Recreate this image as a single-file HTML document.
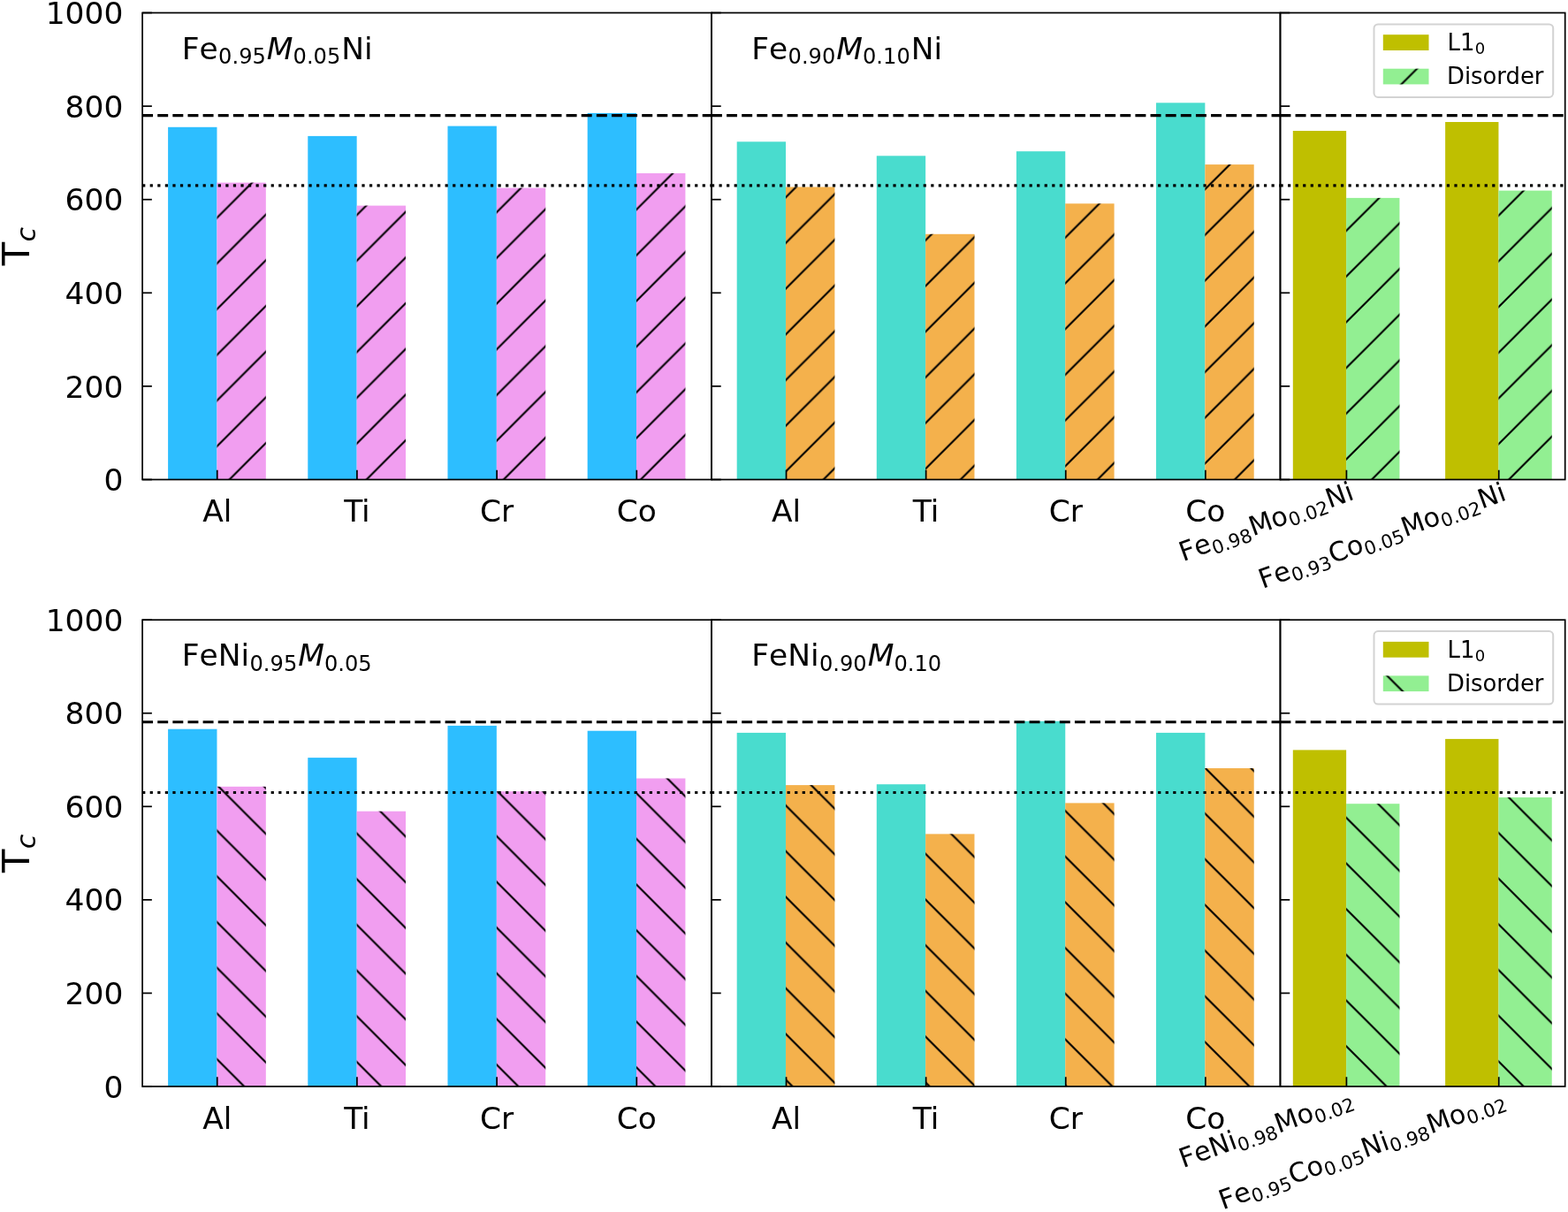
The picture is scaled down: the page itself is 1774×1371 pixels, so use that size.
<!DOCTYPE html><html><head><meta charset="utf-8"><title>Tc bar chart</title><style>html,body{margin:0;padding:0;background:#fff;overflow:hidden;width:1774px;height:1371px}svg{display:block}text{font-family:"DejaVu Sans","Liberation Sans",sans-serif;fill:#000}</style></head><body>
<svg width="1774" height="1371" viewBox="0 0 1774 1371">
<defs><pattern id="hf" patternUnits="userSpaceOnUse" x="0" y="0" width="51.6960" height="51.6960"><path d="M-51.696 26.500L26.500 -51.696M-51.696 78.196L78.196 -51.696M-51.696 129.892L129.892 -51.696M-51.696 181.588L181.588 -51.696" stroke="#000" stroke-width="2.15" fill="none"/></pattern><pattern id="hb" patternUnits="userSpaceOnUse" x="0" y="0" width="51.6960" height="51.6960"><path d="M-51.696 22.196L103.392 177.284M-51.696 -29.500L103.392 125.588M-51.696 -81.196L103.392 73.892M-51.696 -132.892L103.392 22.196M-51.696 -184.588L103.392 -29.500" stroke="#000" stroke-width="2.15" fill="none"/></pattern></defs>
<rect width="1774" height="1371" fill="#fff"/>
<rect x="190.10" y="143.80" width="55.37" height="398.70" fill="#2DBEFF"/>
<rect x="245.46" y="206.60" width="55.37" height="335.90" fill="#F19EF0"/>
<rect x="245.46" y="206.60" width="55.37" height="335.90" fill="url(#hf)"/>
<rect x="348.29" y="153.90" width="55.37" height="388.60" fill="#2DBEFF"/>
<rect x="403.65" y="232.60" width="55.37" height="309.90" fill="#F19EF0"/>
<rect x="403.65" y="232.60" width="55.37" height="309.90" fill="url(#hf)"/>
<rect x="506.48" y="142.60" width="55.37" height="399.90" fill="#2DBEFF"/>
<rect x="561.85" y="212.60" width="55.37" height="329.90" fill="#F19EF0"/>
<rect x="561.85" y="212.60" width="55.37" height="329.90" fill="url(#hf)"/>
<rect x="664.67" y="127.90" width="55.37" height="414.60" fill="#2DBEFF"/>
<rect x="720.04" y="196.00" width="55.37" height="346.50" fill="#F19EF0"/>
<rect x="720.04" y="196.00" width="55.37" height="346.50" fill="url(#hf)"/>
<rect x="833.69" y="160.30" width="55.34" height="382.20" fill="#49DCCE"/>
<rect x="889.03" y="211.50" width="55.34" height="331.00" fill="#F4B14C"/>
<rect x="889.03" y="211.50" width="55.34" height="331.00" fill="url(#hf)"/>
<rect x="991.80" y="176.30" width="55.34" height="366.20" fill="#49DCCE"/>
<rect x="1047.14" y="264.80" width="55.34" height="277.70" fill="#F4B14C"/>
<rect x="1047.14" y="264.80" width="55.34" height="277.70" fill="url(#hf)"/>
<rect x="1149.91" y="171.20" width="55.34" height="371.30" fill="#49DCCE"/>
<rect x="1205.25" y="230.30" width="55.34" height="312.20" fill="#F4B14C"/>
<rect x="1205.25" y="230.30" width="55.34" height="312.20" fill="url(#hf)"/>
<rect x="1308.02" y="116.30" width="55.34" height="426.20" fill="#49DCCE"/>
<rect x="1363.36" y="186.10" width="55.34" height="356.40" fill="#F4B14C"/>
<rect x="1363.36" y="186.10" width="55.34" height="356.40" fill="url(#hf)"/>
<rect x="1462.80" y="148.00" width="60.31" height="394.50" fill="#BFBF00"/>
<rect x="1523.11" y="223.90" width="60.31" height="318.60" fill="#92EF92"/>
<rect x="1523.11" y="223.90" width="60.31" height="318.60" fill="url(#hf)"/>
<rect x="1635.12" y="138.00" width="60.31" height="404.50" fill="#BFBF00"/>
<rect x="1695.44" y="215.60" width="60.31" height="326.90" fill="#92EF92"/>
<rect x="1695.44" y="215.60" width="60.31" height="326.90" fill="url(#hf)"/>
<path d="M161.10 130.67L804.94 130.67" stroke="#000" stroke-width="3.23" fill="none" stroke-dasharray="11.955 5.170"/>
<path d="M161.10 209.86L804.94 209.86" stroke="#000" stroke-width="3.23" fill="none" stroke-dasharray="3.231 5.331"/>
<path d="M804.94 130.67L1448.45 130.67" stroke="#000" stroke-width="3.23" fill="none" stroke-dasharray="11.955 5.170"/>
<path d="M804.94 209.86L1448.45 209.86" stroke="#000" stroke-width="3.23" fill="none" stroke-dasharray="3.231 5.331"/>
<path d="M1448.45 130.67L1770.70 130.67" stroke="#000" stroke-width="3.23" fill="none" stroke-dasharray="11.955 5.170"/>
<path d="M1448.45 209.86L1770.70 209.86" stroke="#000" stroke-width="3.23" fill="none" stroke-dasharray="3.231 5.331"/>
<path d="M161.10 542.50L171.87 542.50" stroke="#000" stroke-width="1.72" fill="none"/>
<path d="M161.10 436.90L171.87 436.90" stroke="#000" stroke-width="1.72" fill="none"/>
<path d="M161.10 331.30L171.87 331.30" stroke="#000" stroke-width="1.72" fill="none"/>
<path d="M161.10 225.70L171.87 225.70" stroke="#000" stroke-width="1.72" fill="none"/>
<path d="M161.10 120.10L171.87 120.10" stroke="#000" stroke-width="1.72" fill="none"/>
<path d="M161.10 14.50L171.87 14.50" stroke="#000" stroke-width="1.72" fill="none"/>
<path d="M804.94 542.50L815.71 542.50" stroke="#000" stroke-width="1.72" fill="none"/>
<path d="M804.94 436.90L815.71 436.90" stroke="#000" stroke-width="1.72" fill="none"/>
<path d="M804.94 331.30L815.71 331.30" stroke="#000" stroke-width="1.72" fill="none"/>
<path d="M804.94 225.70L815.71 225.70" stroke="#000" stroke-width="1.72" fill="none"/>
<path d="M804.94 120.10L815.71 120.10" stroke="#000" stroke-width="1.72" fill="none"/>
<path d="M804.94 14.50L815.71 14.50" stroke="#000" stroke-width="1.72" fill="none"/>
<path d="M1448.45 542.50L1459.22 542.50" stroke="#000" stroke-width="1.72" fill="none"/>
<path d="M1448.45 436.90L1459.22 436.90" stroke="#000" stroke-width="1.72" fill="none"/>
<path d="M1448.45 331.30L1459.22 331.30" stroke="#000" stroke-width="1.72" fill="none"/>
<path d="M1448.45 225.70L1459.22 225.70" stroke="#000" stroke-width="1.72" fill="none"/>
<path d="M1448.45 120.10L1459.22 120.10" stroke="#000" stroke-width="1.72" fill="none"/>
<path d="M1448.45 14.50L1459.22 14.50" stroke="#000" stroke-width="1.72" fill="none"/>
<path d="M245.73 542.50L245.73 531.73" stroke="#000" stroke-width="1.72" fill="none"/>
<path d="M403.92 542.50L403.92 531.73" stroke="#000" stroke-width="1.72" fill="none"/>
<path d="M562.12 542.50L562.12 531.73" stroke="#000" stroke-width="1.72" fill="none"/>
<path d="M720.31 542.50L720.31 531.73" stroke="#000" stroke-width="1.72" fill="none"/>
<path d="M889.53 542.50L889.53 531.73" stroke="#000" stroke-width="1.72" fill="none"/>
<path d="M1047.64 542.50L1047.64 531.73" stroke="#000" stroke-width="1.72" fill="none"/>
<path d="M1205.75 542.50L1205.75 531.73" stroke="#000" stroke-width="1.72" fill="none"/>
<path d="M1363.86 542.50L1363.86 531.73" stroke="#000" stroke-width="1.72" fill="none"/>
<path d="M1523.41 542.50L1523.41 531.73" stroke="#000" stroke-width="1.72" fill="none"/>
<path d="M1695.74 542.50L1695.74 531.73" stroke="#000" stroke-width="1.72" fill="none"/>
<rect x="161.10" y="14.50" width="643.84" height="528.00" fill="none" stroke="#000" stroke-width="1.72"/>
<rect x="804.94" y="14.50" width="643.51" height="528.00" fill="none" stroke="#000" stroke-width="1.72"/>
<rect x="1448.45" y="14.50" width="322.25" height="528.00" fill="none" stroke="#000" stroke-width="1.72"/>
<text x="139.36" y="555.10" font-size="34.46" text-anchor="end">0</text>
<text x="139.36" y="449.50" font-size="34.46" text-anchor="end">200</text>
<text x="139.36" y="343.90" font-size="34.46" text-anchor="end">400</text>
<text x="139.36" y="238.30" font-size="34.46" text-anchor="end">600</text>
<text x="139.36" y="132.70" font-size="34.46" text-anchor="end">800</text>
<text x="139.36" y="27.10" font-size="34.46" text-anchor="end">1000</text>
<text x="245.73" y="590.23" font-size="34.46" text-anchor="middle">Al</text>
<text x="403.92" y="590.23" font-size="34.46" text-anchor="middle">Ti</text>
<text x="562.12" y="590.23" font-size="34.46" text-anchor="middle">Cr</text>
<text x="720.31" y="590.23" font-size="34.46" text-anchor="middle">Co</text>
<text x="889.53" y="590.23" font-size="34.46" text-anchor="middle">Al</text>
<text x="1047.64" y="590.23" font-size="34.46" text-anchor="middle">Ti</text>
<text x="1205.75" y="590.23" font-size="34.46" text-anchor="middle">Cr</text>
<text x="1363.86" y="590.23" font-size="34.46" text-anchor="middle">Co</text>
<text transform="rotate(-20 1534.01 564.10)"><tspan x="1326.01 1343.34" y="564.10" font-size="30.16">Fe</tspan><tspan x="1362.16 1375.58 1382.28 1395.70" y="569.02" font-size="21.11">0.98</tspan><tspan x="1409.93 1435.93" y="564.10" font-size="30.16">Mo</tspan><tspan x="1454.64 1468.06 1474.76 1488.18" y="569.02" font-size="21.11">0.02</tspan><tspan x="1502.42 1524.95" y="564.10" font-size="30.16">Ni</tspan></text>
<text transform="rotate(-20 1705.79 565.20)"><tspan x="1410.79 1428.12" y="565.20" font-size="30.16">Fe</tspan><tspan x="1446.94 1460.35 1467.06 1480.47" y="570.12" font-size="21.11">0.93</tspan><tspan x="1494.71 1515.74" y="565.20" font-size="30.16">Co</tspan><tspan x="1534.46 1547.88 1554.58 1568.00" y="570.12" font-size="21.11">0.05</tspan><tspan x="1582.24 1608.23" y="565.20" font-size="30.16">Mo</tspan><tspan x="1626.95 1640.36 1647.06 1660.48" y="570.12" font-size="21.11">0.02</tspan><tspan x="1674.72 1697.25" y="565.20" font-size="30.16">Ni</tspan></text>
<text transform="rotate(-90 33.00 300.30)"><tspan x="33.00" y="300.30" font-size="43.08">T</tspan><tspan x="59.75" y="307.36" font-size="30.16" font-style="oblique">c</tspan></text>
<text><tspan x="205.70 225.54" y="66.65" font-size="34.46">Fe</tspan><tspan x="247.10 262.46 270.14 285.50" y="72.23" font-size="24.12">0.95</tspan><tspan x="301.80" y="66.65" font-size="34.46" font-style="oblique">M</tspan><tspan x="331.56 346.93 354.60 369.97" y="72.23" font-size="24.12">0.05</tspan><tspan x="386.26 412.07" y="66.65" font-size="34.46">Ni</tspan></text>
<text><tspan x="850.14 869.98" y="66.65" font-size="34.46">Fe</tspan><tspan x="891.54 906.90 914.58 929.94" y="72.23" font-size="24.12">0.90</tspan><tspan x="946.24" y="66.65" font-size="34.46" font-style="oblique">M</tspan><tspan x="976.00 991.37 999.04 1014.41" y="72.23" font-size="24.12">0.10</tspan><tspan x="1030.70 1056.51" y="66.65" font-size="34.46">Ni</tspan></text>
<rect x="1554.50" y="27.40" width="202.70" height="82.50" rx="4.6" ry="4.6" fill="#fff" fill-opacity="0.8" stroke="#D3D3D3" stroke-width="2.00"/>
<rect x="1564.80" y="39.20" width="51.70" height="17.80" fill="#BFBF00"/>
<rect x="1564.80" y="77.70" width="51.70" height="17.70" fill="#92EF92"/>
<rect x="1564.80" y="77.70" width="51.70" height="17.70" fill="url(#hf)"/>
<text><tspan x="1637.50 1651.92" y="57.10" font-size="25.85">L1</tspan><tspan x="1668.63" y="61.37" font-size="18.09">0</tspan></text>
<text x="1637.00" y="95.30" font-size="25.85">Disorder</text>
<rect x="190.10" y="824.70" width="55.37" height="404.30" fill="#2DBEFF"/>
<rect x="245.46" y="889.80" width="55.37" height="339.20" fill="#F19EF0"/>
<rect x="245.46" y="889.80" width="55.37" height="339.20" fill="url(#hb)"/>
<rect x="348.29" y="857.10" width="55.37" height="371.90" fill="#2DBEFF"/>
<rect x="403.65" y="917.70" width="55.37" height="311.30" fill="#F19EF0"/>
<rect x="403.65" y="917.70" width="55.37" height="311.30" fill="url(#hb)"/>
<rect x="506.48" y="820.90" width="55.37" height="408.10" fill="#2DBEFF"/>
<rect x="561.85" y="895.20" width="55.37" height="333.80" fill="#F19EF0"/>
<rect x="561.85" y="895.20" width="55.37" height="333.80" fill="url(#hb)"/>
<rect x="664.67" y="826.70" width="55.37" height="402.30" fill="#2DBEFF"/>
<rect x="720.04" y="880.50" width="55.37" height="348.50" fill="#F19EF0"/>
<rect x="720.04" y="880.50" width="55.37" height="348.50" fill="url(#hb)"/>
<rect x="833.69" y="828.90" width="55.34" height="400.10" fill="#49DCCE"/>
<rect x="889.03" y="888.10" width="55.34" height="340.90" fill="#F4B14C"/>
<rect x="889.03" y="888.10" width="55.34" height="340.90" fill="url(#hb)"/>
<rect x="991.80" y="887.20" width="55.34" height="341.80" fill="#49DCCE"/>
<rect x="1047.14" y="943.40" width="55.34" height="285.60" fill="#F4B14C"/>
<rect x="1047.14" y="943.40" width="55.34" height="285.60" fill="url(#hb)"/>
<rect x="1149.91" y="815.80" width="55.34" height="413.20" fill="#49DCCE"/>
<rect x="1205.25" y="908.40" width="55.34" height="320.60" fill="#F4B14C"/>
<rect x="1205.25" y="908.40" width="55.34" height="320.60" fill="url(#hb)"/>
<rect x="1308.02" y="828.90" width="55.34" height="400.10" fill="#49DCCE"/>
<rect x="1363.36" y="869.00" width="55.34" height="360.00" fill="#F4B14C"/>
<rect x="1363.36" y="869.00" width="55.34" height="360.00" fill="url(#hb)"/>
<rect x="1462.80" y="848.40" width="60.31" height="380.60" fill="#BFBF00"/>
<rect x="1523.11" y="909.20" width="60.31" height="319.80" fill="#92EF92"/>
<rect x="1523.11" y="909.20" width="60.31" height="319.80" fill="url(#hb)"/>
<rect x="1635.12" y="835.90" width="60.31" height="393.10" fill="#BFBF00"/>
<rect x="1695.44" y="902.00" width="60.31" height="327.00" fill="#92EF92"/>
<rect x="1695.44" y="902.00" width="60.31" height="327.00" fill="url(#hb)"/>
<path d="M161.10 816.75L804.94 816.75" stroke="#000" stroke-width="3.23" fill="none" stroke-dasharray="11.955 5.170"/>
<path d="M161.10 896.49L804.94 896.49" stroke="#000" stroke-width="3.23" fill="none" stroke-dasharray="3.231 5.331"/>
<path d="M804.94 816.75L1448.45 816.75" stroke="#000" stroke-width="3.23" fill="none" stroke-dasharray="11.955 5.170"/>
<path d="M804.94 896.49L1448.45 896.49" stroke="#000" stroke-width="3.23" fill="none" stroke-dasharray="3.231 5.331"/>
<path d="M1448.45 816.75L1770.70 816.75" stroke="#000" stroke-width="3.23" fill="none" stroke-dasharray="11.955 5.170"/>
<path d="M1448.45 896.49L1770.70 896.49" stroke="#000" stroke-width="3.23" fill="none" stroke-dasharray="3.231 5.331"/>
<path d="M161.10 1229.00L171.87 1229.00" stroke="#000" stroke-width="1.72" fill="none"/>
<path d="M161.10 1123.44L171.87 1123.44" stroke="#000" stroke-width="1.72" fill="none"/>
<path d="M161.10 1017.88L171.87 1017.88" stroke="#000" stroke-width="1.72" fill="none"/>
<path d="M161.10 912.32L171.87 912.32" stroke="#000" stroke-width="1.72" fill="none"/>
<path d="M161.10 806.76L171.87 806.76" stroke="#000" stroke-width="1.72" fill="none"/>
<path d="M161.10 701.20L171.87 701.20" stroke="#000" stroke-width="1.72" fill="none"/>
<path d="M804.94 1229.00L815.71 1229.00" stroke="#000" stroke-width="1.72" fill="none"/>
<path d="M804.94 1123.44L815.71 1123.44" stroke="#000" stroke-width="1.72" fill="none"/>
<path d="M804.94 1017.88L815.71 1017.88" stroke="#000" stroke-width="1.72" fill="none"/>
<path d="M804.94 912.32L815.71 912.32" stroke="#000" stroke-width="1.72" fill="none"/>
<path d="M804.94 806.76L815.71 806.76" stroke="#000" stroke-width="1.72" fill="none"/>
<path d="M804.94 701.20L815.71 701.20" stroke="#000" stroke-width="1.72" fill="none"/>
<path d="M1448.45 1229.00L1459.22 1229.00" stroke="#000" stroke-width="1.72" fill="none"/>
<path d="M1448.45 1123.44L1459.22 1123.44" stroke="#000" stroke-width="1.72" fill="none"/>
<path d="M1448.45 1017.88L1459.22 1017.88" stroke="#000" stroke-width="1.72" fill="none"/>
<path d="M1448.45 912.32L1459.22 912.32" stroke="#000" stroke-width="1.72" fill="none"/>
<path d="M1448.45 806.76L1459.22 806.76" stroke="#000" stroke-width="1.72" fill="none"/>
<path d="M1448.45 701.20L1459.22 701.20" stroke="#000" stroke-width="1.72" fill="none"/>
<path d="M245.73 1229.00L245.73 1218.23" stroke="#000" stroke-width="1.72" fill="none"/>
<path d="M403.92 1229.00L403.92 1218.23" stroke="#000" stroke-width="1.72" fill="none"/>
<path d="M562.12 1229.00L562.12 1218.23" stroke="#000" stroke-width="1.72" fill="none"/>
<path d="M720.31 1229.00L720.31 1218.23" stroke="#000" stroke-width="1.72" fill="none"/>
<path d="M889.53 1229.00L889.53 1218.23" stroke="#000" stroke-width="1.72" fill="none"/>
<path d="M1047.64 1229.00L1047.64 1218.23" stroke="#000" stroke-width="1.72" fill="none"/>
<path d="M1205.75 1229.00L1205.75 1218.23" stroke="#000" stroke-width="1.72" fill="none"/>
<path d="M1363.86 1229.00L1363.86 1218.23" stroke="#000" stroke-width="1.72" fill="none"/>
<path d="M1523.41 1229.00L1523.41 1218.23" stroke="#000" stroke-width="1.72" fill="none"/>
<path d="M1695.74 1229.00L1695.74 1218.23" stroke="#000" stroke-width="1.72" fill="none"/>
<rect x="161.10" y="701.20" width="643.84" height="527.80" fill="none" stroke="#000" stroke-width="1.72"/>
<rect x="804.94" y="701.20" width="643.51" height="527.80" fill="none" stroke="#000" stroke-width="1.72"/>
<rect x="1448.45" y="701.20" width="322.25" height="527.80" fill="none" stroke="#000" stroke-width="1.72"/>
<text x="139.36" y="1241.60" font-size="34.46" text-anchor="end">0</text>
<text x="139.36" y="1136.04" font-size="34.46" text-anchor="end">200</text>
<text x="139.36" y="1030.48" font-size="34.46" text-anchor="end">400</text>
<text x="139.36" y="924.92" font-size="34.46" text-anchor="end">600</text>
<text x="139.36" y="819.36" font-size="34.46" text-anchor="end">800</text>
<text x="139.36" y="713.80" font-size="34.46" text-anchor="end">1000</text>
<text x="245.73" y="1276.73" font-size="34.46" text-anchor="middle">Al</text>
<text x="403.92" y="1276.73" font-size="34.46" text-anchor="middle">Ti</text>
<text x="562.12" y="1276.73" font-size="34.46" text-anchor="middle">Cr</text>
<text x="720.31" y="1276.73" font-size="34.46" text-anchor="middle">Co</text>
<text x="889.53" y="1276.73" font-size="34.46" text-anchor="middle">Al</text>
<text x="1047.64" y="1276.73" font-size="34.46" text-anchor="middle">Ti</text>
<text x="1205.75" y="1276.73" font-size="34.46" text-anchor="middle">Cr</text>
<text x="1363.86" y="1276.73" font-size="34.46" text-anchor="middle">Co</text>
<text transform="rotate(-20 1534.01 1250.10)"><tspan x="1326.01 1343.34 1361.87 1384.41" y="1250.10" font-size="30.16">FeNi</tspan><tspan x="1393.07 1406.48 1413.18 1426.60" y="1255.02" font-size="21.11">0.98</tspan><tspan x="1440.84 1466.83" y="1250.10" font-size="30.16">Mo</tspan><tspan x="1485.55 1498.96 1505.67 1519.08" y="1255.02" font-size="21.11">0.02</tspan></text>
<text transform="rotate(-20 1705.79 1251.20)"><tspan x="1362.79 1380.12" y="1251.20" font-size="30.16">Fe</tspan><tspan x="1398.94 1412.35 1419.06 1432.47" y="1256.12" font-size="21.11">0.95</tspan><tspan x="1446.71 1467.74" y="1251.20" font-size="30.16">Co</tspan><tspan x="1486.46 1499.88 1506.58 1520.00" y="1256.12" font-size="21.11">0.05</tspan><tspan x="1534.24 1556.77" y="1251.20" font-size="30.16">Ni</tspan><tspan x="1565.43 1578.84 1585.55 1598.96" y="1256.12" font-size="21.11">0.98</tspan><tspan x="1613.20 1639.19" y="1251.20" font-size="30.16">Mo</tspan><tspan x="1657.91 1671.33 1678.03 1691.45" y="1256.12" font-size="21.11">0.02</tspan></text>
<text transform="rotate(-90 33.00 986.90)"><tspan x="33.00" y="986.90" font-size="43.08">T</tspan><tspan x="59.75" y="993.95" font-size="30.16" font-style="oblique">c</tspan></text>
<text><tspan x="205.70 225.54 246.77 272.58" y="753.35" font-size="34.46">FeNi</tspan><tspan x="282.49 297.85 305.53 320.89" y="758.93" font-size="24.12">0.95</tspan><tspan x="337.19" y="753.35" font-size="34.46" font-style="oblique">M</tspan><tspan x="366.96 382.32 390.00 405.36" y="758.93" font-size="24.12">0.05</tspan></text>
<text><tspan x="850.14 869.98 891.21 917.02" y="753.35" font-size="34.46">FeNi</tspan><tspan x="926.93 942.29 949.97 965.33" y="758.93" font-size="24.12">0.90</tspan><tspan x="981.63" y="753.35" font-size="34.46" font-style="oblique">M</tspan><tspan x="1011.40 1026.76 1034.44 1049.80" y="758.93" font-size="24.12">0.10</tspan></text>
<rect x="1554.50" y="714.10" width="202.70" height="82.50" rx="4.6" ry="4.6" fill="#fff" fill-opacity="0.8" stroke="#D3D3D3" stroke-width="2.00"/>
<rect x="1564.80" y="725.90" width="51.70" height="17.80" fill="#BFBF00"/>
<rect x="1564.80" y="764.40" width="51.70" height="17.70" fill="#92EF92"/>
<rect x="1564.80" y="764.40" width="51.70" height="17.70" fill="url(#hb)"/>
<text><tspan x="1637.50 1651.92" y="743.80" font-size="25.85">L1</tspan><tspan x="1668.63" y="748.07" font-size="18.09">0</tspan></text>
<text x="1637.00" y="782.00" font-size="25.85">Disorder</text>
</svg></body></html>
